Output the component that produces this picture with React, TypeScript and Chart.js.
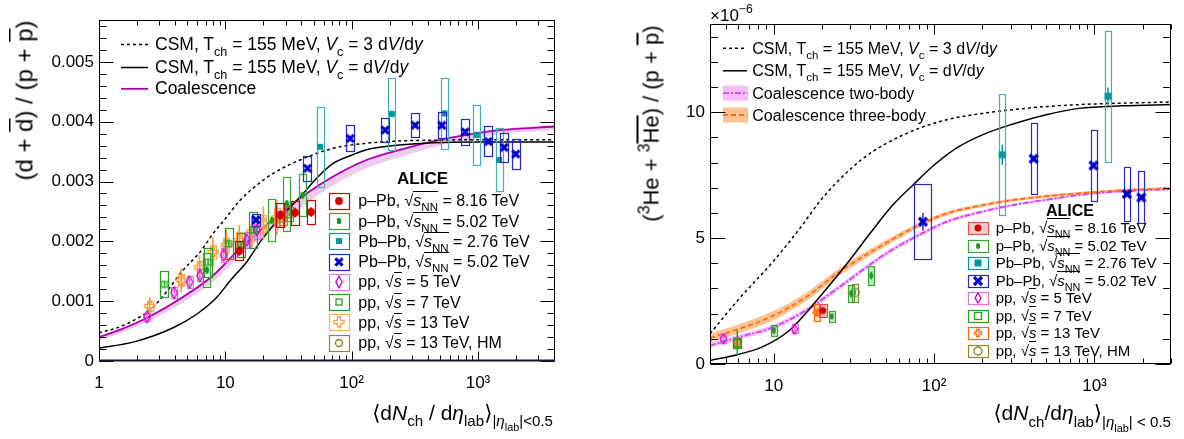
import React, { useEffect, useRef } from 'react';
import { Chart, registerables } from 'chart.js';

Chart.register(...registerables);

const FONT = "'Liberation Sans', Arial, Helvetica, 'DejaVu Sans', sans-serif";

// ================= LEFT PANEL: (d + dbar) / (p + pbar) =================
const dTicksX = [1, 10, 100, 1000];
const dTickLabelsX = ['1', '10', '10²', '10³'];
const dTicksY = [0, 0.001, 0.002, 0.003, 0.004, 0.005];
const dTickLabelsY = ['0', '0.001', '0.002', '0.003', '0.004', '0.005'];

const dPPb8X = [12.9, 27.2, 35.7, 47.8];
const dPPb8Y = [0.00184, 0.00244, 0.00248, 0.00249];
const dPPb8Stat = [0.00008, 0.00008, 0.00008, 0.00008];
const dPPb8Sys = [0.00016, 0.0002, 0.0002, 0.0002];

const dPPb5X = [7.15, 23.4, 30.7, 40.8];
const dPPb5Y = [0.00152, 0.00235, 0.00263, 0.00277];
const dPPb5Stat = [0.00006, 0.00006, 0.00006, 0.00006];
const dPPb5Sys = [0.00028, 0.00035, 0.00045, 0.00035];

const dPbPb2X = [56.3, 208, 542, 978, 1469];
const dPbPb2Y = [0.00358, 0.00413, 0.00414, 0.00378, 0.00336];
const dPbPb2Stat = [0.00005, 0.00005, 0.00005, 0.00005, 0.00005];
const dPbPb2Sys = [0.00067, 0.0006, 0.00059, 0.0005, 0.00053];

const dPbPb5X = [17.5, 44.7, 97.3, 184, 318, 517, 791, 1209, 1609, 1990];
const dPbPb5Y = [0.00236, 0.00322, 0.00372, 0.00386, 0.00394, 0.00394, 0.00383, 0.00367, 0.00357, 0.00346];
const dPbPb5Stat = [0.00004, 0.00004, 0.00004, 0.00004, 0.00004, 0.00004, 0.00004, 0.00004, 0.00004, 0.00004];
const dPbPb5Sys = [0.0001, 0.00021, 0.00022, 0.0002, 0.0002, 0.00022, 0.00022, 0.00025, 0.00024, 0.00025];

const dPp5X = [2.4, 3.94, 5.21, 6.3, 9.68, 14.8, 17.8];
const dPp5Y = [0.00074, 0.00114, 0.00132, 0.00143, 0.00177, 0.00202, 0.00219];
const dPp5Stat = [0.00005, 0.00005, 0.00005, 0.00005, 0.00005, 0.00005, 0.00005];
const dPp5Sys = [0.00007, 0.00009, 0.0001, 0.0001, 0.00012, 0.00013, 0.00014];

const dPp7X = [3.29, 7.3, 10.6, 13.3, 16.7];
const dPp7Y = [0.00128, 0.00165, 0.00196, 0.00194, 0.00219];
const dPp7Stat = [0.00005, 0.00005, 0.00005, 0.00005, 0.00005];
const dPp7Sys = [0.00022, 0.00024, 0.00026, 0.0002, 0.0003];

const dPp13X = [2.52, 4.48, 6.25, 7.98, 10.2, 12.9, 16.2, 20, 25.6];
const dPp13Y = [0.00092, 0.00135, 0.00157, 0.00182, 0.00194, 0.00202, 0.00216, 0.0023, 0.0024];
const dPp13Stat = [0.00015, 0.0002, 0.0002, 0.00025, 0.00025, 0.00025, 0.00027, 0.00028, 0.0003];
const dPp13Sys = [0.00008, 0.0001, 0.0001, 0.00012, 0.00012, 0.00013, 0.00013, 0.00014, 0.00015];

const dPp13HMX = [28.5, 32.0];
const dPp13HMY = [0.00238, 0.00245];
const dPp13HMStat = [0.00003, 0.00003];
const dPp13HMSys = [0.00012, 0.00012];

// model curves (left)
const dCsm3X = [1, 1.5, 2, 2.5, 3.5, 4.5, 6.3, 8, 10, 13, 18, 25, 39, 70, 130, 250, 450, 1000, 4070];
const dCsm3Y = [0.00047, 0.00058, 0.00071, 0.00084, 0.00118, 0.00149, 0.00182, 0.00213, 0.00238, 0.00268, 0.00295, 0.00316, 0.00336, 0.00355, 0.00364, 0.00368, 0.00369, 0.0037, 0.0037];
const dCsm1X = [1, 1.9, 3.9, 6, 8.6, 11, 14.8, 19, 24, 32, 39, 53, 71, 100, 131, 240, 440, 1000, 4070];
const dCsm1Y = [0.000218, 0.00032, 0.00056, 0.00079, 0.00107, 0.00135, 0.00166, 0.002, 0.00227, 0.00255, 0.00274, 0.00306, 0.0033, 0.00344, 0.00353, 0.00361, 0.00365, 0.00366, 0.00366];
const dCoalX = [1, 1.5, 2.5, 4.4, 8, 13, 20, 39, 71, 131, 241, 440, 810, 1500, 4070];
const dCoalY = [0.0004, 0.00053, 0.00074, 0.00104, 0.00143, 0.00188, 0.00223, 0.00272, 0.00308, 0.00336, 0.00353, 0.00367, 0.00378, 0.00386, 0.00392];
const dCoalLo = [0.00035, 0.00047, 0.00067, 0.00095, 0.00132, 0.00175, 0.00208, 0.00256, 0.00293, 0.00322, 0.00341, 0.00357, 0.0037, 0.00379, 0.00386];
const dCoalHi = [0.00042, 0.00055, 0.00076, 0.00106, 0.00145, 0.0019, 0.00225, 0.00274, 0.0031, 0.00338, 0.00355, 0.00369, 0.0038, 0.00388, 0.00394];

// ================= RIGHT PANEL: (3He + 3Hebar) / (p + pbar), units 1e-6 =================
const hTicksX = [10, 100, 1000];
const hTickLabelsX = ['10', '10²', '10³'];
const hTicksY = [0, 5, 10];
const hTickLabelsY = ['0', '5', '10'];

const hPPb8X = [20.2];
const hPPb8Y = [2.12];
const hPPb8Stat = [0.1];
const hPPb8Sys = [0.25];

const hPPb5X = [10.0, 23.0, 30.4, 40.5];
const hPPb5Y = [1.33, 1.89, 2.8, 3.51];
const hPPb5Stat = [0.15, 0.1, 0.15, 0.15];
const hPPb5Sys = [0.22, 0.22, 0.33, 0.38];

const hPbPb2X = [266, 1213];
const hPbPb2Y = [8.31, 10.63];
const hPbPb2Stat = [0.4, 0.35];
const hPbPb2Sys = [2.4, 2.6];

const hPbPb5X = [85.1, 417, 986, 1592, 1959];
const hPbPb5Y = [5.65, 8.15, 7.88, 6.75, 6.61];
const hPbPb5Stat = [0.35, 0.1, 0.1, 0.1, 0.1];
const hPbPb5Sys = [1.48, 1.41, 1.4, 1.07, 1.04];
const hPbPb5XSys = [10.6, 0, 0, 0, 0];

const hPp5X = [4.85, 13.5];
const hPp5Y = [1.0, 1.39];
const hPp5Stat = [0.1, 0.1];
const hPp5Sys = [0.18, 0.18];

const hPp7X = [5.92];
const hPp7Y = [0.84];
const hPp7Stat = [0.5];
const hPp7Sys = [0.2];

const hPp13X = [5.92, 18.5];
const hPp13Y = [0.87, 2.05];
const hPp13Stat = [0.1, 0.1];
const hPp13Sys = [0.18, 0.33];

const hPp13HMX = [32.2];
const hPp13HMY = [2.84];
const hPp13HMStat = [0.1];
const hPp13HMSys = [0.35];

const hCsm3X = [4, 6, 10, 15, 19.3, 25, 35, 50, 80, 120, 200, 309, 500, 806, 1500, 3000];
const hCsm3Y = [1.2, 2.55, 4.1, 5.5, 6.45, 7.25, 8.1, 8.75, 9.35, 9.7, 9.95, 10.1, 10.22, 10.3, 10.36, 10.4];
const hCsm1X = [4, 6, 8.5, 12.5, 19.3, 28.3, 40, 55, 75, 100, 140, 200, 300, 500, 800, 1500, 3000];
const hCsm1Y = [0.14, 0.38, 0.68, 1.33, 2.66, 3.95, 5.2, 6.3, 7.15, 7.9, 8.6, 9.1, 9.5, 9.9, 10.15, 10.25, 10.3];
const hCoalX = [4, 6.1, 10, 15.9, 25.7, 50, 85, 120, 200, 309, 500, 806, 1500, 3000];
const h3bY = [1.04, 1.4, 1.93, 2.66, 3.66, 4.8, 5.59, 5.98, 6.3, 6.51, 6.66, 6.78, 6.9, 6.98];
const h3bLo = [0.86, 1.22, 1.75, 2.49, 3.51, 4.68, 5.49, 5.9, 6.23, 6.45, 6.6, 6.73, 6.85, 6.93];
const h3bHi = [1.22, 1.58, 2.11, 2.83, 3.81, 4.92, 5.69, 6.06, 6.37, 6.57, 6.72, 6.83, 6.95, 7.03];
const h2bY = [0.74, 1.07, 1.47, 2.13, 3.06, 4.38, 5.2, 5.65, 6.05, 6.31, 6.52, 6.71, 6.86, 6.94];
const h2bLo = [0.64, 0.97, 1.37, 2.03, 2.96, 4.29, 5.12, 5.58, 5.99, 6.26, 6.47, 6.67, 6.82, 6.9];
const h2bHi = [0.84, 1.17, 1.57, 2.23, 3.16, 4.47, 5.28, 5.72, 6.11, 6.36, 6.57, 6.75, 6.9, 6.98];

// ================= colours =================
const C = {
  red: '#d40000', pg: '#1a991a', pgBox: '#33aa33', teal: '#009999', tealBox: '#40b0b0',
  blue: '#0000cc', blueBox: '#2828cc', mag: '#cc00cc', magBox: '#dd77dd', g7: '#22a022',
  or: '#ff9933', orBox: '#ffaa55', or2: '#ff6600', ol: '#808020', olBox: '#8a8a30',
  coal: '#b000b0', coalBand: 'rgba(222,140,222,0.45)',
  two: '#cc44ff', twoBand: 'rgba(240,170,250,0.75)', three: '#ff6a10', threeBand: 'rgba(252,180,120,0.8)',
};

function makeMarker(kind: string, color: string, a: number, b = 0, lw = 1.3) {
  const c = document.createElement('canvas');
  c.width = 20; c.height = 20;
  const g = c.getContext('2d') as CanvasRenderingContext2D;
  g.translate(10, 10);
  g.fillStyle = color; g.strokeStyle = color; g.lineWidth = lw;
  g.beginPath();
  if (kind === 'circle') { g.arc(0, 0, a, 0, 2 * Math.PI); g.fill(); }
  else if (kind === 'dot') { g.ellipse(0, 0, a, b, 0, 0, 2 * Math.PI); g.fill(); }
  else if (kind === 'square') { g.fillRect(-a, -a, 2 * a, 2 * a); }
  else if (kind === 'x') { g.moveTo(-a, -a); g.lineTo(a, a); g.moveTo(a, -a); g.lineTo(-a, a); g.stroke(); }
  else if (kind === 'odiamond') { g.moveTo(0, -b); g.lineTo(a, 0); g.lineTo(0, b); g.lineTo(-a, 0); g.closePath(); g.stroke(); }
  else if (kind === 'osquare') { g.strokeRect(-a, -a, 2 * a, 2 * a); }
  else if (kind === 'ocross') {
    const w = b;
    g.moveTo(-w, -a); g.lineTo(w, -a); g.lineTo(w, -w); g.lineTo(a, -w); g.lineTo(a, w); g.lineTo(w, w);
    g.lineTo(w, a); g.lineTo(-w, a); g.lineTo(-w, w); g.lineTo(-a, w); g.lineTo(-a, -w); g.lineTo(-w, -w);
    g.closePath(); g.stroke();
  } else if (kind === 'ocircle') { g.arc(0, 0, a, 0, 2 * Math.PI); g.stroke(); }
  return c;
}

function seriesDs(x: number[], y: number[], stat: number[], sys: number[], img: any, box: any, xSys?: number[]) {
  return {
    type: 'line', data: x.map((v, i) => ({ x: v, y: y[i] })), showLine: false,
    pointStyle: img, pointRadius: 4, pointHoverRadius: 4, order: 0,
    errStat: stat, errSys: sys, xSys, boxStyle: box,
  };
}

function curveDs(x: number[], y: number[], color: any, width: number, dash: number[], extra: any = {}) {
  return {
    type: 'line', data: x.map((v, i) => ({ x: v, y: y[i] })), borderColor: color, borderWidth: width,
    borderDash: dash, pointRadius: 0, fill: false, cubicInterpolationMode: 'monotone', order: 10, ...extra,
  };
}

const errBoxes = {
  id: 'errBoxes',
  beforeDatasetDraw(chart: any, args: any) {
    const ds = chart.data.datasets[args.index];
    if (!ds.errSys) return;
    const { ctx, chartArea: a } = chart;
    const xs = chart.scales.x, ys = chart.scales.y;
    const st = ds.boxStyle;
    ctx.save();
    ctx.beginPath(); ctx.rect(a.left, a.top, a.right - a.left, a.bottom - a.top); ctx.clip();
    ds.data.forEach((p: any, i: number) => {
      const px = xs.getPixelForValue(p.x);
      let x1 = px - st.hw, x2 = px + st.hw;
      if (ds.xSys && ds.xSys[i]) { x1 = xs.getPixelForValue(p.x - ds.xSys[i]); x2 = xs.getPixelForValue(p.x + ds.xSys[i]); }
      const yT = ys.getPixelForValue(p.y + ds.errSys[i]);
      const yB = ys.getPixelForValue(p.y - ds.errSys[i]);
      if (st.fill) { ctx.fillStyle = st.fill; ctx.fillRect(x1, yT, x2 - x1, yB - yT); }
      ctx.strokeStyle = st.color; ctx.lineWidth = st.lw || 1.2;
      ctx.strokeRect(Math.round(x1) + 0.5, Math.round(yT) + 0.5, Math.round(x2 - x1), Math.round(yB - yT));
      if (ds.errStat && ds.errStat[i]) {
        const s1 = ys.getPixelForValue(p.y + ds.errStat[i]);
        const s2 = ys.getPixelForValue(p.y - ds.errStat[i]);
        ctx.strokeStyle = st.statColor || st.color; ctx.lineWidth = st.statW || 1.5;
        ctx.beginPath(); ctx.moveTo(px, s1); ctx.lineTo(px, s2); ctx.stroke();
      }
    });
    ctx.restore();
  },
};

function legendPlugin(items: any[]) {
  return {
    id: 'legendSymbols',
    afterDraw(chart: any) {
      const ctx = chart.ctx;
      ctx.save();
      for (const e of items) {
        if (e.band) { ctx.fillStyle = e.band; ctx.fillRect(e.x1, e.y - e.h / 2, e.x2 - e.x1, e.h); }
        if (e.line) {
          ctx.strokeStyle = e.line; ctx.lineWidth = e.width; ctx.setLineDash(e.dash || []);
          ctx.beginPath(); ctx.moveTo(e.x1, e.y); ctx.lineTo(e.x2, e.y); ctx.stroke(); ctx.setLineDash([]);
        }
        if (e.img) {
          if (e.fill) { ctx.fillStyle = e.fill; ctx.fillRect(e.x - e.w / 2, e.y - e.h / 2, e.w, e.h); }
          ctx.strokeStyle = e.box; ctx.lineWidth = 1.2;
          ctx.strokeRect(Math.round(e.x - e.w / 2) + 0.5, Math.round(e.y - e.h / 2) + 0.5, e.w, e.h);
          ctx.drawImage(e.img, Math.round(e.x) - 10, Math.round(e.y) - 10);
        }
      }
      ctx.restore();
    },
  };
}

function framePlugin(o: any) {
  return {
    id: 'frameTicks',
    afterDraw(chart: any) {
      const { ctx, chartArea: a } = chart;
      const xs = chart.scales.x, ys = chart.scales.y;
      const L = Math.round(a.left) + 0.5, R = Math.round(a.right) - 0.5;
      const T = Math.round(a.top) + 0.5, B = Math.round(a.bottom) - 0.5;
      ctx.save();
      ctx.strokeStyle = '#000'; ctx.lineWidth = 1;
      ctx.beginPath();
      const lo = Math.floor(Math.log10(xs.min)), hi = Math.ceil(Math.log10(xs.max));
      for (let d = lo; d <= hi; d++) {
        for (let m = 1; m <= 9; m++) {
          const v = m * Math.pow(10, d);
          if (v < xs.min * 0.999 || v > xs.max * 1.001) continue;
          const p = Math.round(xs.getPixelForValue(v)) + 0.5;
          const len = m === 1 ? o.xMajor : o.xMinor;
          ctx.moveTo(p, B); ctx.lineTo(p, B - len);
          ctx.moveTo(p, T); ctx.lineTo(p, T + len);
        }
      }
      const n = Math.round((ys.max - ys.min) / o.yStep);
      for (let i = 0; i <= n; i++) {
        const v = ys.min + i * o.yStep;
        if (v > ys.max + o.yStep * 1e-6) break;
        const p = Math.round(ys.getPixelForValue(v)) + 0.5;
        const len = i % o.yPerMajor === 0 ? o.yMajor : o.yMinor;
        ctx.moveTo(L, p); ctx.lineTo(L + len, p);
        ctx.moveTo(R, p); ctx.lineTo(R - len, p);
      }
      ctx.stroke();
      ctx.strokeRect(L, T, R - L, B - T);
      if (o.bottomW) {
        ctx.lineWidth = o.bottomW; ctx.strokeStyle = '#141430';
        ctx.beginPath(); ctx.moveTo(L - 0.5, B); ctx.lineTo(R + 0.5, B); ctx.stroke();
      }
      ctx.restore();
    },
  };
}

function buildChart(canvas: HTMLCanvasElement, cfg: any) {
  const tickFont = { family: FONT, size: 17 };
  return new Chart(canvas, {
    type: 'line',
    data: { datasets: cfg.datasets },
    options: {
      responsive: false, maintainAspectRatio: false, animation: false, devicePixelRatio: 1, events: [],
      layout: { padding: cfg.padding },
      plugins: { legend: { display: false }, tooltip: { enabled: false } },
      scales: {
        x: {
          type: 'logarithmic', min: cfg.xMin, max: cfg.xMax,
          grid: { display: false, drawTicks: false }, border: { display: false },
          afterBuildTicks: (s: any) => { s.ticks = cfg.xTicks.map((v: number) => ({ value: v })); },
          afterFit: (s: any) => { s.height = cfg.xH; },
          ticks: {
            autoSkip: false, maxRotation: 0, minRotation: 0, padding: cfg.xPad, color: '#000', font: tickFont,
            callback: (_v: any, i: number) => cfg.xLabels[i],
          },
        },
        y: {
          type: 'linear', min: cfg.yMin, max: cfg.yMax,
          grid: { display: false, drawTicks: false }, border: { display: false },
          afterBuildTicks: (s: any) => { s.ticks = cfg.yTicks.map((v: number) => ({ value: v })); },
          afterFit: (s: any) => { s.width = cfg.yW; },
          ticks: {
            autoSkip: false, padding: 5, color: '#000', font: tickFont,
            callback: (_v: any, i: number) => cfg.yLabels[i],
          },
        },
      } as any,
    } as any,
    plugins: [errBoxes, legendPlugin(cfg.legend), framePlugin(cfg.frame)],
  } as any);
}

function makeLeft(canvas: HTMLCanvasElement) {
  const m = {
    red: makeMarker('circle', C.red, 3.9),
    pg: makeMarker('dot', C.pg, 2.2, 3.2),
    teal: makeMarker('square', C.teal, 3),
    blue: makeMarker('x', C.blue, 3.6, 0, 3),
    mag: makeMarker('odiamond', C.mag, 3.2, 5.8),
    g7: makeMarker('osquare', C.g7, 3),
    or: makeMarker('ocross', C.or, 5, 1.6),
    ol: makeMarker('ocircle', C.ol, 3.5),
  };
  const datasets: any[] = [
    seriesDs(dPPb8X, dPPb8Y, dPPb8Stat, dPPb8Sys, m.red, { hw: 4, color: C.red }),
    seriesDs(dPbPb5X, dPbPb5Y, dPbPb5Stat, dPbPb5Sys, m.blue, { hw: 4, color: C.blueBox }),
    seriesDs(dPbPb2X, dPbPb2Y, dPbPb2Stat, dPbPb2Sys, m.teal, { hw: 3.5, color: C.tealBox }),
    seriesDs(dPPb5X, dPPb5Y, dPPb5Stat, dPPb5Sys, m.pg, { hw: 3.5, color: C.pgBox }),
    seriesDs(dPp13HMX, dPp13HMY, dPp13HMStat, dPp13HMSys, m.ol, { hw: 4, color: C.olBox }),
    seriesDs(dPp7X, dPp7Y, dPp7Stat, dPp7Sys, m.g7, { hw: 4, color: C.g7 }),
    seriesDs(dPp5X, dPp5Y, dPp5Stat, dPp5Sys, m.mag, { hw: 3, color: C.magBox }),
    seriesDs(dPp13X, dPp13Y, dPp13Stat, dPp13Sys, m.or, { hw: 3, color: C.orBox, statColor: C.or, statW: 1.6 }),
    curveDs(dCsm3X, dCsm3Y, '#000', 1.5, [3, 3]),
    curveDs(dCsm1X, dCsm1Y, '#000', 1.5, []),
    curveDs(dCoalX, dCoalY, C.coal, 1.8, []),
    curveDs(dCoalX, dCoalHi, 'rgba(0,0,0,0)', 0, [], { fill: '+1', backgroundColor: C.coalBand, order: 11 }),
    curveDs(dCoalX, dCoalLo, 'rgba(0,0,0,0)', 0, [], { order: 11 }),
  ];
  const rows = [
    { img: m.red, box: C.red }, { img: m.pg, box: C.pgBox }, { img: m.teal, box: C.teal }, { img: m.blue, box: C.blueBox },
    { img: m.mag, box: C.magBox }, { img: m.g7, box: C.g7 }, { img: m.or, box: C.orBox }, { img: m.ol, box: C.olBox },
  ];
  const legend: any[] = [
    { line: '#000', width: 1.5, dash: [3, 3], x1: 121, x2: 148, y: 44.5 },
    { line: '#000', width: 1.5, x1: 121, x2: 148, y: 67.5 },
    { line: C.coal, width: 1.8, x1: 121, x2: 148, y: 88.8 },
    ...rows.map((r, i) => ({ ...r, x: 339.3, y: 200.8 + 20.25 * i, w: 20, h: 16 })),
  ];
  return buildChart(canvas, {
    datasets, legend,
    padding: { left: 0, top: 20, right: 35, bottom: 0 },
    xMin: 1, xMax: 4070, yMin: 0, yMax: 0.0057,
    xTicks: dTicksX, xLabels: dTickLabelsX, yTicks: dTicksY, yLabels: dTickLabelsY,
    xH: 78, yW: 99, xPad: 12,
    frame: { xMajor: 9, xMinor: 5, yMajor: 14, yMinor: 7, yStep: 0.0002, yPerMajor: 5, bottomW: 2 },
  });
}

function makeRight(canvas: HTMLCanvasElement) {
  const m = {
    red: makeMarker('circle', C.red, 3.5),
    pg: makeMarker('dot', C.pg, 2, 3),
    teal: makeMarker('square', C.teal, 3.5),
    blue: makeMarker('x', C.blue, 4, 0, 3.2),
    mag: makeMarker('odiamond', C.mag, 3, 5),
    g7: makeMarker('osquare', C.g7, 3.5),
    or: makeMarker('ocross', C.or2, 3.5, 1.2),
    ol: makeMarker('ocircle', C.ol, 4),
  };
  const datasets: any[] = [
    seriesDs(hPbPb5X, hPbPb5Y, hPbPb5Stat, hPbPb5Sys, m.blue, { hw: 3, color: C.blueBox }, hPbPb5XSys),
    seriesDs(hPbPb2X, hPbPb2Y, hPbPb2Stat, hPbPb2Sys, m.teal, { hw: 3, color: C.tealBox, statColor: C.teal }),
    seriesDs(hPPb8X, hPPb8Y, hPPb8Stat, hPPb8Sys, m.red, { hw: 4, color: '#e05050', fill: 'rgba(225,80,80,0.35)' }),
    seriesDs(hPPb5X, hPPb5Y, hPPb5Stat, hPPb5Sys, m.pg, { hw: 3, color: C.pgBox, fill: 'rgba(60,170,60,0.3)' }),
    seriesDs(hPp13HMX, hPp13HMY, hPp13HMStat, hPp13HMSys, m.ol, { hw: 3, color: C.olBox }),
    seriesDs(hPp7X, hPp7Y, hPp7Stat, hPp7Sys, m.g7, { hw: 4, color: C.g7 }),
    seriesDs(hPp13X, hPp13Y, hPp13Stat, hPp13Sys, m.or, { hw: 3, color: C.or2, fill: 'rgba(255,130,60,0.25)' }),
    seriesDs(hPp5X, hPp5Y, hPp5Stat, hPp5Sys, m.mag, { hw: 3, color: C.magBox }),
    curveDs(hCsm3X, hCsm3Y, '#000', 1.5, [3, 3]),
    curveDs(hCsm1X, hCsm1Y, '#000', 1.5, []),
    curveDs(hCoalX, h3bY, C.three, 1.8, [5, 3]),
    curveDs(hCoalX, h2bY, C.two, 1.8, [6, 2, 2, 2]),
    curveDs(hCoalX, h3bHi, 'rgba(0,0,0,0)', 0, [], { fill: '+1', backgroundColor: C.threeBand, order: 11 }),
    curveDs(hCoalX, h3bLo, 'rgba(0,0,0,0)', 0, [], { order: 11 }),
    curveDs(hCoalX, h2bHi, 'rgba(0,0,0,0)', 0, [], { fill: '+1', backgroundColor: C.twoBand, order: 12 }),
    curveDs(hCoalX, h2bLo, 'rgba(0,0,0,0)', 0, [], { order: 12 }),
  ];
  const rows = [
    { img: m.red, box: '#e05050', fill: 'rgba(225,80,80,0.3)' }, { img: m.pg, box: C.pgBox }, { img: m.teal, box: C.teal },
    { img: m.blue, box: C.blueBox }, { img: m.mag, box: C.magBox }, { img: m.g7, box: C.g7 },
    { img: m.or, box: C.or2 }, { img: m.ol, box: C.olBox },
  ];
  const legend: any[] = [
    { line: '#000', width: 1.5, dash: [3, 3], x1: 133, x2: 157, y: 48.3 },
    { line: '#000', width: 1.5, x1: 133, x2: 157, y: 70.8 },
    { band: C.twoBand, h: 15, line: C.two, width: 1.8, dash: [6, 2, 2, 2], x1: 133, x2: 158, y: 93.2 },
    { band: C.threeBand, h: 15, line: C.three, width: 1.8, dash: [5, 3], x1: 133, x2: 158, y: 115 },
    ...rows.map((r, i) => ({ ...r, x: 388, y: 228.3 + 17.5 * i, w: 20, h: 12 })),
  ];
  return buildChart(canvas, {
    datasets, legend,
    padding: { left: 0, top: 24, right: 13, bottom: 0 },
    xMin: 4, xMax: 3000, yMin: 0, yMax: 13.5,
    xTicks: hTicksX, xLabels: hTickLabelsX, yTicks: hTicksY, yLabels: hTickLabelsY,
    xH: 75, yW: 120, xPad: 12,
    frame: { xMajor: 10, xMinor: 5, yMajor: 15, yMinor: 7.5, yStep: 1, yPerMajor: 5, bottomW: 0 },
  });
}

// ---------- text helpers ----------
const Sb = (p: any) => <span style={{ fontSize: '0.72em', position: 'relative', top: '0.45em' }}>{p.children}</span>;
const Sp = (p: any) => <span style={{ fontSize: '0.72em', position: 'relative', top: '-0.6em' }}>{p.children}</span>;
const Ov = (p: any) => <span style={{ textDecoration: 'overline' }}>{p.children}</span>;
const Rt = (p: any) => <span>√<span style={{ borderTop: '1px solid #000' }}>{p.children}</span></span>;

function Txt(p: any) {
  const lh = Math.round(p.size * 1.2);
  const st: any = {
    position: 'absolute', top: p.y - lh / 2, lineHeight: lh + 'px', fontSize: p.size, whiteSpace: 'nowrap',
    fontWeight: p.bold ? 'bold' : 'normal',
  };
  if (p.align === 'right') st.right = 1184 - p.x;
  else if (p.align === 'center') { st.left = p.x; st.transform = 'translateX(-50%)'; }
  else st.left = p.x;
  return <div style={st}>{p.children}</div>;
}

function VTitle(p: any) {
  const W = 400, H = Math.round(p.size * 1.3);
  return (
    <div style={{
      position: 'absolute', left: p.cx - W, top: p.top - H / 2, width: W, height: H, lineHeight: H + 'px',
      fontSize: p.size, textAlign: 'right', whiteSpace: 'nowrap', transform: 'rotate(-90deg)',
      transformOrigin: `${W}px ${H / 2}px`,
    }}>{p.children}</div>
  );
}

const SNN = () => <Rt><i>s</i><Sb>NN</Sb></Rt>;
const SS = () => <Rt><i>s</i></Rt>;

const dataLegend = [
  <>p–Pb, <SNN /> = 8.16 TeV</>,
  <>p–Pb, <SNN /> = 5.02 TeV</>,
  <>Pb–Pb, <SNN /> = 2.76 TeV</>,
  <>Pb–Pb, <SNN /> = 5.02 TeV</>,
  <>pp, <SS /> = 5 TeV</>,
  <>pp, <SS /> = 7 TeV</>,
  <>pp, <SS /> = 13 TeV</>,
  <>pp, <SS /> = 13 TeV, HM</>,
];

export default function App() {
  const leftRef = useRef<HTMLCanvasElement>(null);
  const rightRef = useRef<HTMLCanvasElement>(null);
  useEffect(() => {
    const a = makeLeft(leftRef.current as HTMLCanvasElement);
    const b = makeRight(rightRef.current as HTMLCanvasElement);
    return () => { a.destroy(); b.destroy(); };
  }, []);
  return (
    <div style={{ position: 'absolute', left: 0, top: 0, width: 1184, height: 439, background: '#fff', overflow: 'hidden', fontFamily: FONT, color: '#000' }}>
      <canvas ref={leftRef} width={590} height={439} style={{ position: 'absolute', left: 0, top: 0, width: 590, height: 439 }} />
      <canvas ref={rightRef} width={594} height={439} style={{ position: 'absolute', left: 590, top: 0, width: 594, height: 439 }} />

      {/* left panel texts */}
      <VTitle cx={23.5} top={20} size={24}>(d + <Ov>d</Ov>) / (p + <Ov>p</Ov>)</VTitle>
      <Txt x={553} y={412} size={21} align="right">
        ⟨d<i>N</i><Sb>ch</Sb> / d<i>η</i><Sb>lab</Sb>⟩<Sb>|<i>η</i><Sb>lab</Sb>|&lt;0.5</Sb>
      </Txt>
      <Txt x={155} y={44.5} size={17.5}>CSM, T<Sb>ch</Sb> = 155 MeV, <i>V</i><Sb>c</Sb> = 3 d<i>V</i>/d<i>y</i></Txt>
      <Txt x={155} y={67.5} size={17.5}>CSM, T<Sb>ch</Sb> = 155 MeV, <i>V</i><Sb>c</Sb> = d<i>V</i>/d<i>y</i></Txt>
      <Txt x={155} y={88.8} size={17.5}>Coalescence</Txt>
      <Txt x={422.5} y={179.2} size={17} bold align="center">ALICE</Txt>
      {dataLegend.map((t, i) => <Txt key={'l' + i} x={358.3} y={200.8 + 20.25 * i} size={16}>{t}</Txt>)}

      {/* right panel texts */}
      <Txt x={710} y={15.8} size={17}>×10<Sp>−6</Sp></Txt>
      <VTitle cx={651} top={25} size={22}>(<Sp>3</Sp>He + <Sp>3</Sp><Ov>He</Ov>) / (p + <Ov>p</Ov>)</VTitle>
      <Txt x={1171} y={412.5} size={21} align="right">
        ⟨d<i>N</i><Sb>ch</Sb>/d<i>η</i><Sb>lab</Sb>⟩<Sb>|<i>η</i><Sb>lab</Sb>| &lt; 0.5</Sb>
      </Txt>
      <Txt x={752.3} y={48.3} size={16}>CSM, T<Sb>ch</Sb> = 155 MeV, <i>V</i><Sb>c</Sb> = 3 d<i>V</i>/d<i>y</i></Txt>
      <Txt x={752.3} y={70.8} size={16}>CSM, T<Sb>ch</Sb> = 155 MeV, <i>V</i><Sb>c</Sb> = d<i>V</i>/d<i>y</i></Txt>
      <Txt x={752.3} y={93.2} size={16}>Coalescence two-body</Txt>
      <Txt x={752.3} y={115} size={16}>Coalescence three-body</Txt>
      <Txt x={1070} y={210.8} size={16} bold align="center">ALICE</Txt>
      {dataLegend.map((t, i) => <Txt key={'r' + i} x={995.7} y={228.3 + 17.5 * i} size={15}>{t}</Txt>)}
    </div>
  );
}
